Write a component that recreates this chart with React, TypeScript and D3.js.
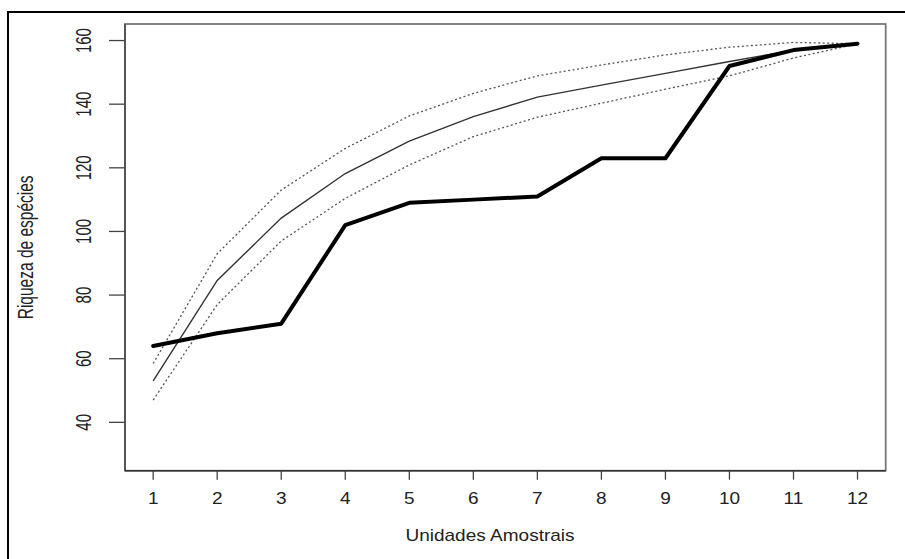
import React from "react";
import * as d3 from "d3";

const units = [1, 2, 3, 4, 5, 6, 7, 8, 9, 10, 11, 12];
const observed = [64, 68, 71, 102, 109, 110, 111, 123, 123, 152, 157, 159];
const meanCurve = [53, 84.6, 104.2, 118.2, 128.4, 136.1, 142.2, 146, 149.7, 153.4, 157, 159];
const upperCurve = [58.5, 93, 113, 126.1, 136.3, 143.4, 148.9, 152.3, 155.5, 157.9, 159.4, 159];
const lowerCurve = [47, 77, 97, 110.4, 120.9, 129.8, 135.9, 140.3, 144.7, 148.9, 154.5, 159];
const yTicks = [40, 60, 80, 100, 120, 140, 160];
const xLabel = "Unidades Amostrais";
const yLabel = "Riqueza de espécies";

const W = 905;
const H = 559;
const FONT = "'Liberation Sans', Arimo, Arial, sans-serif";
const FS = 15;
const SX = 1.45;
const HFS = 17;
const HSX = 1.12;

export default function App() {
  const left = 125, right = 885.7, top = 24, bottom = 470.7;
  const x = d3.scaleLinear().domain([1 - 0.44, 12 + 0.44]).range([left, right]);
  const y = d3.scaleLinear().domain([30 - 5.2, 160 + 5.2]).range([bottom, top]);
  const line = d3
    .line<number>()
    .x((_, i) => x(units[i]))
    .y((d) => y(d));

  return (
    <svg
      width={W}
      height={H}
      style={{ position: "absolute", left: 0, top: 0, background: "#fff" }}
    >
      <rect x={0} y={0} width={W} height={H} fill="#fff" />
      <rect x={8} y={12} width={W + 10} height={H + 10} fill="none" stroke="#000" strokeWidth={2} />

      {/* plot box */}
      <rect
        x={left}
        y={top}
        width={right - left}
        height={bottom - top}
        fill="none"
        stroke="#777"
        strokeWidth={1.8}
      />
      <line x1={left} x2={left} y1={top} y2={bottom} stroke="#555" strokeWidth={2} />
      <line x1={left} x2={right} y1={bottom} y2={bottom} stroke="#333" strokeWidth={1.6} />

      {/* y axis ticks */}
      {yTicks.map((t) => (
        <g key={"y" + t}>
          <line x1={left - 16} x2={left} y1={y(t)} y2={y(t)} stroke="#444" strokeWidth={1.3} />
          <text
            transform={`translate(${90.5},${y(t)}) rotate(-90) scale(1,${SX})`}
            textAnchor="middle"
            fontFamily={FONT}
            fontSize={FS}
            fill="#222"
          >
            {t}
          </text>
        </g>
      ))}

      {/* x axis ticks */}
      {units.map((u) => (
        <g key={"x" + u}>
          <line x1={x(u)} x2={x(u)} y1={bottom} y2={bottom + 9} stroke="#444" strokeWidth={1.3} />
          <text
            transform={`translate(${x(u)},${503.5}) scale(${HSX},1)`}
            textAnchor="middle"
            fontFamily={FONT}
            fontSize={HFS}
            fill="#222"
          >
            {u}
          </text>
        </g>
      ))}

      {/* axis titles */}
      <text
        transform={`translate(${490},${541}) scale(${HSX},1)`}
        textAnchor="middle"
        fontFamily={FONT}
        fontSize={HFS}
        fill="#222"
      >
        {xLabel}
      </text>
      <text
        transform={`translate(${33},${(top + bottom) / 2}) rotate(-90) scale(1,${SX})`}
        textAnchor="middle"
        fontFamily={FONT}
        fontSize={FS + 0.5}
        fill="#222"
      >
        {yLabel}
      </text>

      {/* curves */}
      <path d={line(upperCurve) || ""} fill="none" stroke="#555" strokeWidth={1.3} strokeDasharray="2 2.5" />
      <path d={line(lowerCurve) || ""} fill="none" stroke="#555" strokeWidth={1.3} strokeDasharray="2 2.5" />
      <path d={line(meanCurve) || ""} fill="none" stroke="#333" strokeWidth={1.4} />
      <path
        d={line(observed) || ""}
        fill="none"
        stroke="#000"
        strokeWidth={4}
        strokeLinejoin="round"
        strokeLinecap="round"
      />
    </svg>
  );
}
